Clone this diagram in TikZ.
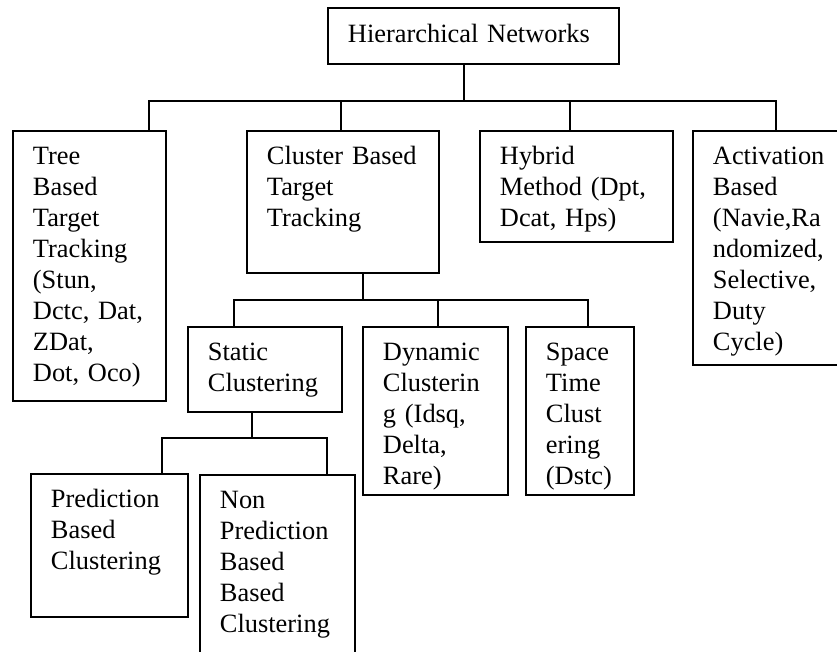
\documentclass[tikz,border=0pt]{standalone}
\usepackage{fontspec}
\setmainfont{Liberation Serif}
\usetikzlibrary{calc}

\begin{document}
\begin{tikzpicture}[x=1pt,y=-1pt,line width=1.9pt,
    every node/.style={font=\fontsize{26.4}{31}\selectfont},
    tbox/.style={draw,rectangle,anchor=north west,inner xsep=20pt,inner ysep=0pt,
        align=left,text height=34pt}]
    \useasboundingbox (0,0) rectangle (837,652);

    % top level
    \node[tbox,text width=251pt,text height=35pt,text depth=21pt] (root) at (327,7)
        {Hierarchical Networks};
    \node[tbox,text width=113pt,text depth=236pt] (tree) at (12,130)
        {Tree\\Based\\Target\\Tracking\\(Stun,\\Dctc, Dat,\\ZDat,\\Dot, Oco)};
    \node[tbox,text width=152pt,text depth=108pt] (clus) at (246,130)
        {Cluster Based\\Target\\Tracking};
    \node[tbox,text width=153pt,text depth=77pt] (hyb) at (479,130)
        {Hybrid\\Method (Dpt,\\Dcat, Hps)};
    \node[tbox,text width=120pt,text depth=200pt] (act) at (692,130)
        {Activation\\Based\\(Navie,Ra\\ndomized,\\Selective,\\Duty\\Cycle)};

    % cluster based level
    \node[tbox,text width=114pt,text depth=51pt] (stat) at (187,326)
        {Static\\Clustering};
    \node[tbox,text width=105pt,text depth=134pt] (dyn) at (362,326)
        {Dynamic\\Clusterin\\g (Idsq,\\Delta,\\Rare)};
    \node[tbox,text width=68pt,text depth=134pt] (spc) at (525,326)
        {Space\\Time\\Clust\\ering\\(Dstc)};

    % static clustering level
    \node[tbox,text width=117pt,text depth=109pt] (pred) at (30,473)
        {Prediction\\Based\\Clustering};
    \node[tbox,text width=115pt,text depth=156pt] (npred) at (199,474)
        {Non\\Prediction\\Based\\Based\\Clustering};

    %%%%%%%%%%%%%%%%%%%%%%%%%%%%%%%%%%%
    % root -> top level
    \coordinate (h0) at (464,101);
    \coordinate (h1) at (149,101);
    \coordinate (h2) at (341,101);
    \coordinate (h3) at (570,101);
    \coordinate (h4) at (776,101);
    \draw (h0 |- root.south) -- (h0);
    \draw (h1 |- tree.north) -- (h1) -- (h4) -- (h4 |- act.north);
    \draw (h2) -- (h2 |- clus.north);
    \draw (h3) -- (h3 |- hyb.north);

    % cluster based -> static, dynamic, space time
    \coordinate (c0) at (363,300);
    \coordinate (c1) at (234,300);
    \coordinate (c2) at (438,300);
    \coordinate (c3) at (588,300);
    \draw (c0 |- clus.south) -- (c0);
    \draw (c1 |- stat.north) -- (c1) -- (c3) -- (c3 |- spc.north);
    \draw (c2) -- (c2 |- dyn.north);

    % static -> prediction, non prediction
    \coordinate (s0) at (252,438);
    \coordinate (s1) at (162,438);
    \coordinate (s2) at (327,438);
    \draw (s0 |- stat.south) -- (s0);
    \draw (s1 |- pred.north) -- (s1) -- (s2) -- (s2 |- npred.north);
    %%%%%%%%%%%%%%%%%%%%%%%%%%%%%%%%%%%
\end{tikzpicture}
\end{document}
